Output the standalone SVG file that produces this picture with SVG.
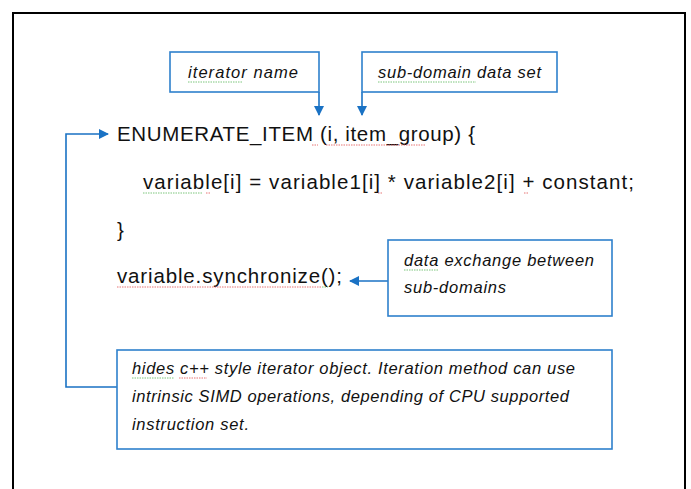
<svg xmlns="http://www.w3.org/2000/svg" width="691" height="489" viewBox="0 0 691 489">
<style>
.frame{fill:#fff;stroke:#000;stroke-width:2}
.box{fill:#fff;stroke:#2e80cc;stroke-width:1.6}
.conn{fill:none;stroke:#1a72c4;stroke-width:1.6}
.code{font-family:"Liberation Sans",Arial,sans-serif;font-size:20.5px;fill:#111}
.lbl{font-family:"Liberation Sans",Arial,sans-serif;font-size:16.5px;font-style:italic;fill:#111}
.sqg{fill:none;stroke:#5cb85c;stroke-width:0.8}
.sqr{fill:none;stroke:#e05050;stroke-width:0.8}
</style>
<defs>
<marker id="ah" markerWidth="10" markerHeight="10" refX="9" refY="5" orient="auto" markerUnits="userSpaceOnUse">
<path d="M0,0 L10,5 L0,10 Z" fill="#1a72c4"/>
</marker>
</defs>
<rect x="0" y="0" width="691" height="489" fill="#fff"/>
<rect class="frame" x="13" y="13" width="672" height="490"/>
<g id="connectors">
<path class="conn" d="M319,92 V115" marker-end="url(#ah)"/>
<path class="conn" d="M362,92 V115" marker-end="url(#ah)"/>
<path class="conn" d="M388,281 H350" marker-end="url(#ah)"/>
<path class="conn" d="M117,387 H66 V134 H108" marker-end="url(#ah)"/>
</g>
<g id="iterator-name">
<rect class="box" x="170" y="52" width="149" height="40"/>
<text class="lbl" x="188" y="78" textLength="110">iterator name</text>
<path class="sqg" d="M188,82 h54" stroke-dasharray="1.5 1"/>
</g>
<g id="sub-domain">
<rect class="box" x="362" y="52" width="195" height="40"/>
<text class="lbl" x="378" y="78" textLength="163">sub-domain data set</text>
<path class="sqg" d="M378,82 h98" stroke-dasharray="1.5 1"/>
</g>
<g id="code">
<text class="code" x="117" y="141" textLength="358">ENUMERATE_ITEM (i, item_group) {</text>
<path class="sqr" d="M312,145 h6 M326,145 h100" stroke-dasharray="1.5 1"/>
<text class="code" x="143" y="189" textLength="491">variable[i] = variable1[i] * variable2[i] + constant;</text>
<path class="sqg" d="M143,193 h60" stroke-dasharray="1.5 1"/>
<path class="sqr" d="M206,193 h5 M378,193 h5 M524,193 h5" stroke-dasharray="1.5 1"/>
<text class="code" x="117" y="237">}</text>
<text class="code" x="117" y="283" textLength="225">variable.synchronize();</text>
<path class="sqr" d="M117,287 h205" stroke-dasharray="1.5 1"/>
<path class="sqg" d="M322,287 h6" stroke-dasharray="1.5 1"/>
</g>
<g id="data-exchange">
<rect class="box" x="388" y="240" width="224" height="76"/>
<text class="lbl" x="404" y="266" textLength="190">data exchange between</text>
<path class="sqg" d="M404,270 h34" stroke-dasharray="1.5 1"/>
<text class="lbl" x="404" y="293" textLength="102">sub-domains</text>
</g>
<g id="hides">
<rect class="box" x="117" y="350" width="495" height="99"/>
<text class="lbl" x="132" y="374" textLength="443">hides c++ style iterator object. Iteration method can use</text>
<path class="sqg" d="M132,378 h42" stroke-dasharray="1.5 1"/>
<path class="sqr" d="M179,378 h28" stroke-dasharray="1.5 1"/>
<text class="lbl" x="132" y="402" textLength="437">intrinsic SIMD operations, depending of CPU supported</text>
<text class="lbl" x="132" y="430" textLength="117">instruction set.</text>
</g>
</svg>
